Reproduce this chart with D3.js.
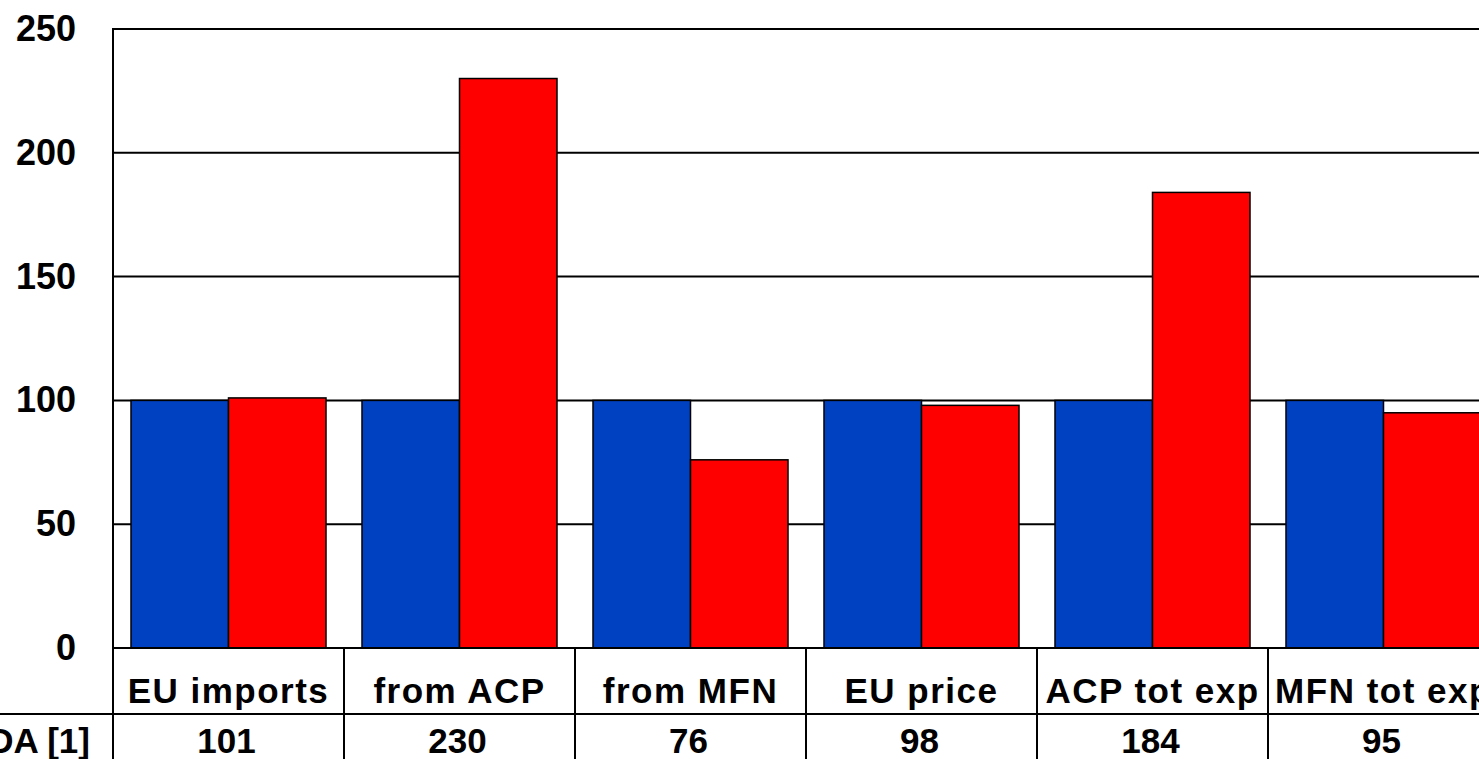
<!DOCTYPE html>
<html><head><meta charset="utf-8">
<script src="https://cdn.jsdelivr.net/npm/d3@7"></script>
<style>
html,body{margin:0;padding:0;background:#fff;overflow:hidden;}
svg{display:block;font-family:"Liberation Sans",Arial,sans-serif;}
</style></head>
<body>
<script>
const categories = ["EU imports","from ACP","from MFN","EU price","ACP tot exp","MFN tot exp"];
const baseValues = [100,100,100,100,100,100];
const scenarioValues = [101,230,76,98,184,95];
const rowLabel = "DA [1]";
const yTicks = [0,50,100,150,200,250];

(function(){
const W = 1479, H = 759;
const svg = d3.select("body").append("svg").attr("width",W).attr("height",H);

const mLeft = 113, mTop = 29, mBottom = 648, catW = 231;
const x0 = d3.scaleBand().domain(categories).range([mLeft, mLeft + catW*categories.length]).padding(0);
const x1 = d3.scaleBand().domain(["base","scenario"]).range([18, catW-18]).padding(0);
const y = d3.scaleLinear().domain([0,250]).range([mBottom, mTop]);

// gridlines
svg.append("g").selectAll("line").data(yTicks.filter(t=>t>0)).join("line")
  .attr("x1",mLeft).attr("x2",x0.range()[1])
  .attr("y1",d=>y(d)).attr("y2",d=>y(d))
  .attr("stroke","#000").attr("stroke-width",2);

// y tick labels via axis
const yAxis = svg.append("g").attr("transform",`translate(${mLeft},0)`)
  .call(d3.axisLeft(y).tickValues(yTicks).tickSize(0).tickPadding(37));
yAxis.select(".domain").remove();
yAxis.selectAll("text").attr("font-size",36).attr("font-weight","bold")
  .attr("font-family","'Liberation Sans',Arial,sans-serif").attr("fill","#000");

// bars
const groups = svg.append("g").selectAll("g").data(categories).join("g")
  .attr("transform",d=>`translate(${x0(d)},0)`);
groups.append("rect")
  .attr("x",x1("base")).attr("width",x1.bandwidth())
  .attr("y",(d,i)=>y(baseValues[i])).attr("height",(d,i)=>y(0)-y(baseValues[i]))
  .attr("fill","#0041C2").attr("stroke","#000").attr("stroke-width",1.5);
groups.append("rect")
  .attr("x",x1("scenario")).attr("width",x1.bandwidth())
  .attr("y",(d,i)=>y(scenarioValues[i])).attr("height",(d,i)=>y(0)-y(scenarioValues[i]))
  .attr("fill","#FF0000").attr("stroke","#000").attr("stroke-width",1.5);

// plot border
svg.append("rect").attr("x",mLeft).attr("y",mTop)
  .attr("width",x0.range()[1]-mLeft).attr("height",mBottom-mTop)
  .attr("fill","none").attr("stroke","#000").attr("stroke-width",2);

// data table
const row1 = 714;
svg.append("line").attr("x1",0).attr("x2",x0.range()[1]).attr("y1",row1).attr("y2",row1)
  .attr("stroke","#000").attr("stroke-width",2);
svg.append("g").selectAll("line").data([mLeft].concat(categories.map(c=>x0(c)+catW))).join("line")
  .attr("x1",d=>d).attr("x2",d=>d).attr("y1",mBottom).attr("y2",H)
  .attr("stroke","#000").attr("stroke-width",2);
svg.append("g").selectAll("text").data(categories).join("text")
  .attr("x",d=>x0(d)+catW/2).attr("y",703)
  .attr("text-anchor","middle").attr("font-size",35).attr("font-weight","bold")
  .attr("letter-spacing","1.5px")
  .text(d=>d);
svg.append("g").selectAll("text").data(scenarioValues).join("text")
  .attr("x",(d,i)=>x0(categories[i])+catW/2-2).attr("y",753)
  .attr("text-anchor","middle").attr("font-size",35).attr("font-weight","bold")
  .text(d=>d);
svg.append("text").attr("x",90).attr("y",753).attr("text-anchor","end")
  .attr("font-size",35).attr("font-weight","bold").text(rowLabel);
})();
</script>
</body></html>
